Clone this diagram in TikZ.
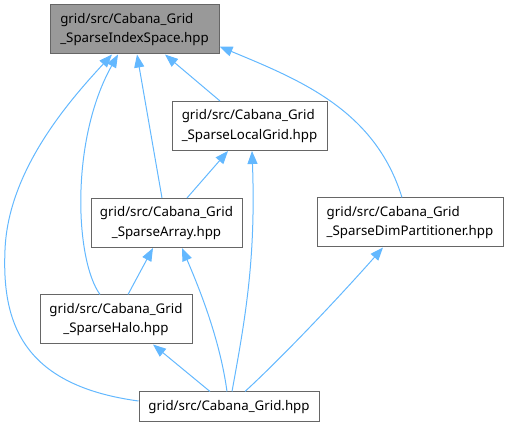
\documentclass[tikz,border=0pt]{standalone}
\usepackage{fontspec}
\setmainfont{Noto Sans}
\usetikzlibrary{arrows.meta}
\definecolor{edgeblue}{HTML}{63B8FF}
\definecolor{nodeborder}{HTML}{666666}
\definecolor{rootfill}{HTML}{999999}

\begin{document}
\begin{tikzpicture}[
  x=1pt, y=-1pt,
  font=\fontsize{13.3}{19.5}\selectfont,
  fileblock/.style={rectangle, draw=nodeborder, line width=1pt, fill=white, inner xsep=2pt, inner ysep=2pt, minimum height=49pt, align=center},
  leftblock/.style={fileblock, align=left},
  rootblock/.style={leftblock, fill=rootfill},
  arrow/.style={-{Triangle[length=13pt, width=10pt]}, edgeblue, line width=1pt},
]
\useasboundingbox (0,0) rectangle (509,427);

\node[rootblock, minimum width=169pt] (f-index) at (134.5,29.5) {grid/src/Cabana\_Grid\\\_SparseIndexSpace.hpp};
\node[leftblock, minimum width=155pt] (f-local) at (249.5,126) {grid/src/Cabana\_Grid\\\_SparseLocalGrid.hpp};
\node[fileblock, minimum width=151pt] (f-array) at (166.5,223) {grid/src/Cabana\_Grid\\\_SparseArray.hpp};
\node[leftblock, minimum width=186pt] (f-part) at (410,222.5) {grid/src/Cabana\_Grid\\\_SparseDimPartitioner.hpp};
\node[fileblock, minimum width=152pt] (f-halo) at (116,319.5) {grid/src/Cabana\_Grid\\\_SparseHalo.hpp};
\node[fileblock, minimum width=180pt, minimum height=30pt] (f-grid) at (229,407) {grid/src/Cabana\_Grid.hpp};

\draw[arrow] ([xshift=-29.5pt]f-local.north) -- ([xshift=30.5pt]f-index.south);
\draw[arrow] ([xshift=-4.5pt]f-array.north) -- ([xshift=2.5pt]f-index.south);
\draw[arrow] ([xshift=-16pt]f-halo.north) .. controls (75,260) and (70,140) .. ([xshift=-16.5pt]f-index.south);
\draw[arrow] ([yshift=6pt]f-grid.west) .. controls (20,385) and (2,320) .. (5,250) .. controls (8,170) and (70,100) .. ([xshift=-22.5pt]f-index.south);
\draw[arrow] ([xshift=-8pt]f-part.north) .. controls (375,110) and (300,80) .. ([yshift=-17pt]f-index.east);
\draw[arrow] ([xshift=20.5pt]f-array.north) -- ([xshift=-21.5pt]f-local.south);
\draw[arrow] ([xshift=3pt]f-grid.north) .. controls (245,320) and (256,260) .. ([xshift=2.5pt]f-local.south);
\draw[arrow] ([xshift=12pt]f-halo.north) -- ([xshift=-13.5pt]f-array.south);
\draw[arrow] ([xshift=-2pt]f-grid.north) .. controls (220,340) and (200,290) .. ([xshift=15.5pt]f-array.south);
\draw[arrow] ([xshift=-19pt]f-grid.north) -- ([xshift=37pt]f-halo.south);
\draw[arrow] ([xshift=16pt]f-grid.north) .. controls (290,350) and (350,285) .. ([xshift=-27pt]f-part.south);

\end{tikzpicture}
\end{document}
